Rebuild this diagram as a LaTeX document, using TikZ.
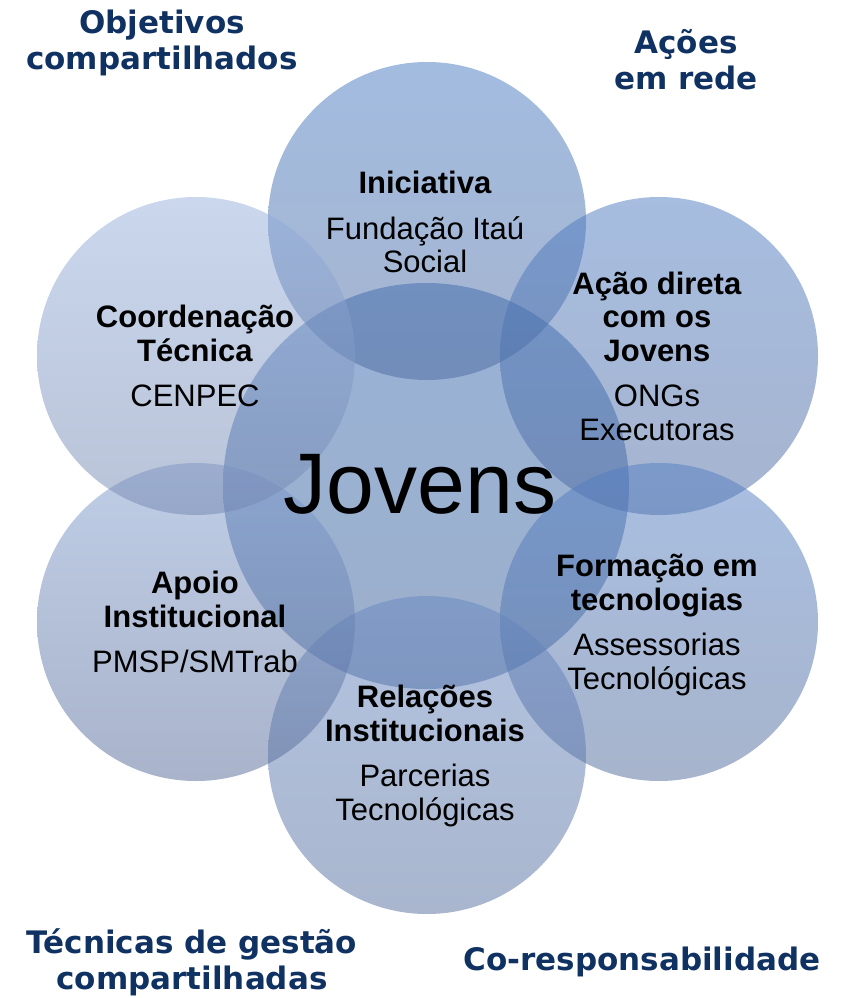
\documentclass[tikz,border=0pt]{standalone}
\usepackage{fontspec}
\setmainfont{Liberation Sans}
\newfontfamily\headfont{DejaVu Sans}
\definecolor{navy}{RGB}{16,50,98}
\definecolor{ctT}{RGB}{69,121,193}\definecolor{cbT}{RGB}{77,105,159}
\definecolor{ctUL}{RGB}{149,175,219}\definecolor{cbUL}{RGB}{115,135,177}
\definecolor{ctLL}{RGB}{127,155,205}\definecolor{cbLL}{RGB}{83,105,151}
\definecolor{ctUR}{RGB}{77,123,193}\definecolor{cbUR}{RGB}{77,105,159}
\definecolor{ctLR}{RGB}{83,127,197}\definecolor{cbLR}{RGB}{79,105,153}
\definecolor{ctB}{RGB}{103,135,193}\definecolor{cbB}{RGB}{83,109,157}
\definecolor{ctC}{RGB}{49,101,173}\definecolor{cbC}{RGB}{59,97,153}
\tikzset{
  bubble/.style={circle, inner sep=0pt, minimum size=318pt, opacity=0.5},
  bigbubble/.style={circle, inner sep=0pt, minimum size=406pt, opacity=0.5},
  lbl/.style={align=center, font=\fontsize{31}{33.5}\selectfont, text=black},
  corner/.style={align=center, font=\headfont\bfseries\fontsize{31}{36}\selectfont, text=navy},
}
\begin{document}
\begin{tikzpicture}[x=1pt,y=-1pt]
\useasboundingbox (0,0) rectangle (845,998);
\node[bigbubble, top color=ctC, bottom color=cbC] (cc) at (426,486) {};
\node[bubble, top color=ctT, bottom color=cbT] (ct) at (427,221) {};
\node[bubble, top color=ctUR, bottom color=cbUR] (cur) at (659,356) {};
\node[bubble, top color=ctLR, bottom color=cbLR] (clr) at (659,622) {};
\node[bubble, top color=ctB, bottom color=cbB] (cb) at (427,755) {};
\node[bubble, top color=ctLL, bottom color=cbLL] (cll) at (196,622) {};
\node[bubble, top color=ctUL, bottom color=cbUL] (cul) at (196,356) {};

\node[lbl] (tt) at (425,222) {\textbf{Iniciativa}\\[12pt]Fundação Itaú\\Social};
\node[lbl] (tul) at (195,356) {\textbf{Coordenação}\\\textbf{Técnica}\\[12pt]CENPEC};
\node[lbl] (tur) at (657,356) {\textbf{Ação direta}\\\textbf{com os}\\\textbf{Jovens}\\[12pt]ONGs\\Executoras};
\node[lbl] (tll) at (195,622) {\textbf{Apoio}\\\textbf{Institucional}\\[12pt]PMSP/SMTrab};
\node[lbl] (tlr) at (657,625) {\textbf{Formação em}\\\textbf{tecnologias}\\[12pt]Assessorias\\Tecnológicas};
\node[lbl] (tb) at (425,756) {\textbf{Relações}\\\textbf{Institucionais}\\[12pt]Parcerias\\Tecnológicas};
\node[font=\fontsize{86}{90}\selectfont, text=black] (tj) at (420,484) {Jovens};

\node[corner] (k1) at (162,43) {Objetivos\\compartilhados};
\node[corner] (k2) at (686,60) {Ações\\em rede};
\node[corner] (k3) at (192,962) {Técnicas de gestão\\compartilhadas};
\node[corner] (k4) at (642,962) {Co-responsabilidade};
\end{tikzpicture}
\end{document}
